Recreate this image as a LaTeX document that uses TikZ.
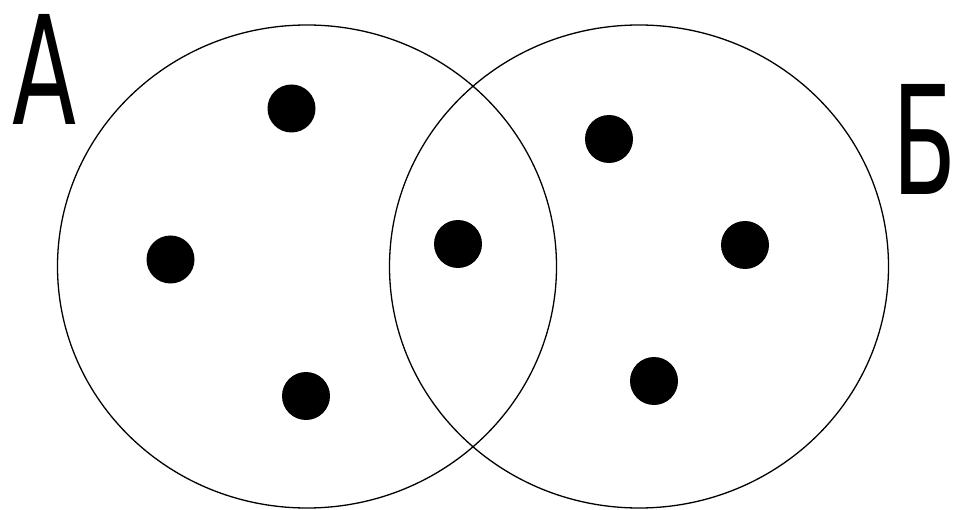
\documentclass[tikz,border=0pt]{standalone}
\usepackage{fontspec}
\usepackage{tikz}
\usetikzlibrary{shapes.geometric, positioning}
\newfontfamily\labelfont{DejaVu Sans}

\begin{document}
\begin{tikzpicture}[
    x=1pt, y=-1pt,
    setbox/.style={ellipse, draw, line width=1.3pt, inner sep=0pt, minimum width=499pt, minimum height=483pt},
    element/.style={circle, fill=black, inner sep=0pt, minimum size=48pt},
    setname/.style={anchor=base, inner sep=0pt, xscale=0.62, font=\labelfont\fontsize{151}{151}\selectfont}
]
\useasboundingbox (0,0) rectangle (957,510);

% Sets
\node[setbox] (setA) at (307,266.5) {};
\node[setbox] (setB) at (639,266.5) {};

% Elements of A
\node[element] (a1) at (291.5,108.5) {};
\node[element] (a2) at (170.5,259.5) {};
\node[element] (a3) at (306,396) {};

% Common element
\node[element] (ab) at (458,244) {};

% Elements of B
\node[element] (b1) at (609,139) {};
\node[element] (b2) at (745,245) {};
\node[element] (b3) at (654,381) {};

% Labels
\node[setname] (nameA) at (45,125) {А};
\node[setname] (nameB) at (925,195) {Б};

\end{tikzpicture}
\end{document}
